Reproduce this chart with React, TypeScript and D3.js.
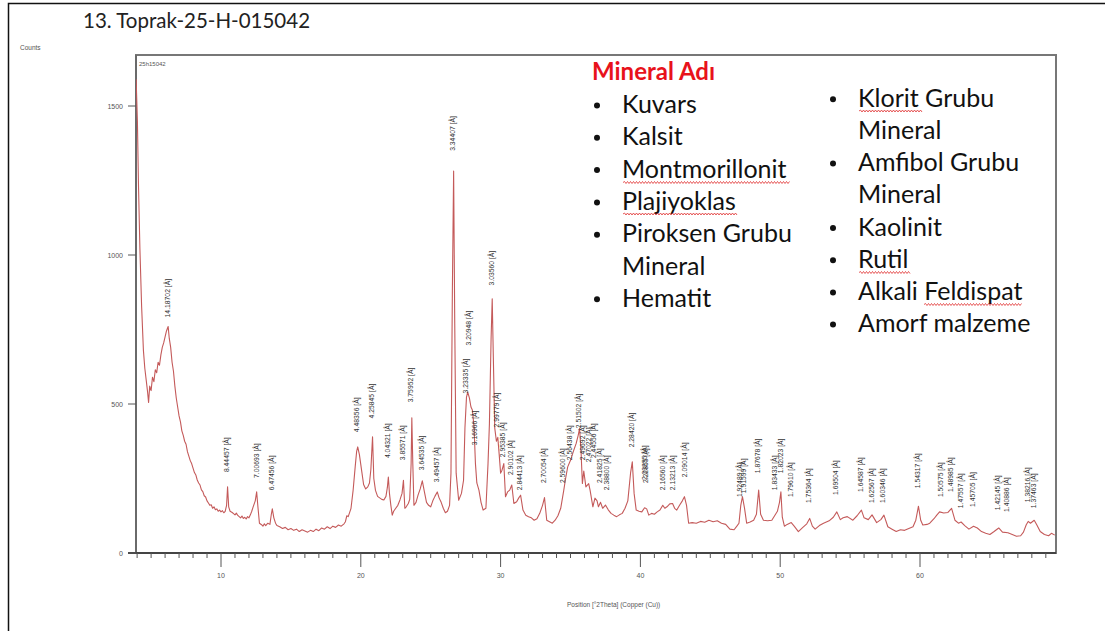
import React from 'react';
import * as d3 from 'd3';

// ---- DATA ----
const title = '13. Toprak-25-H-015042';
const sampleId = '25h15042';
const yTitle = 'Counts';
const xTitle = 'Position [°2Theta] (Copper (Cu))';
const xTicks = [10, 20, 30, 40, 50, 60];
const yTicks = [0, 500, 1000, 1500];

// 2Theta, counts
const profile: [number, number][] = [
  [3.93, 1590], [4.02, 1450], [4.1, 1230], [4.2, 1020], [4.32, 830], [4.45, 680], [4.55, 620], [4.65, 580],
  [4.75, 540], [4.82, 505], [4.9, 560], [5.0, 545], [5.1, 590], [5.2, 575], [5.3, 615], [5.4, 605],
  [5.5, 640], [5.6, 630], [5.7, 665], [5.8, 690], [5.9, 705], [6.0, 725], [6.1, 745], [6.22, 760],
  [6.3, 720], [6.4, 690], [6.5, 640], [6.6, 610], [6.7, 560], [6.8, 520], [6.9, 490], [7.0, 460],
  [7.1, 440], [7.2, 410], [7.3, 395], [7.4, 375], [7.5, 365], [7.6, 340], [7.7, 325], [7.8, 310],
  [7.9, 300], [8.0, 285], [8.1, 270], [8.2, 262], [8.3, 245], [8.4, 235], [8.5, 228], [8.6, 212],
  [8.7, 206], [8.8, 192], [8.9, 188], [9.0, 175], [9.1, 168], [9.2, 160], [9.3, 162], [9.4, 150],
  [9.5, 155], [9.6, 145], [9.7, 148], [9.8, 140], [9.9, 144], [10.0, 138], [10.1, 142], [10.2, 135],
  [10.3, 140], [10.4, 160], [10.47, 222], [10.55, 155], [10.65, 140], [10.8, 136], [10.9, 132], [11.0, 128],
  [11.1, 134], [11.2, 126], [11.3, 122], [11.4, 118], [11.5, 124], [11.6, 116], [11.7, 120], [11.8, 114],
  [11.9, 122], [12.0, 118], [12.1, 128], [12.2, 140], [12.3, 155], [12.45, 175], [12.55, 205], [12.65, 150],
  [12.75, 100], [12.9, 95], [13.0, 90], [13.1, 98], [13.2, 92], [13.35, 100], [13.5, 96], [13.6, 130],
  [13.67, 148], [13.78, 118], [13.9, 100], [14.0, 92], [14.2, 88], [14.4, 82], [14.6, 86], [14.8, 78],
  [15.0, 82], [15.2, 76], [15.4, 80], [15.6, 72], [15.8, 78], [16.0, 74], [16.2, 70], [16.4, 76],
  [16.6, 72], [16.8, 80], [17.0, 75], [17.2, 84], [17.4, 80], [17.6, 88], [17.8, 82], [18.0, 90],
  [18.2, 86], [18.4, 94], [18.6, 90], [18.8, 98], [18.9, 105], [19.0, 125], [19.1, 122], [19.3, 150],
  [19.45, 210], [19.6, 290], [19.7, 340], [19.78, 356], [19.9, 330], [20.05, 280], [20.2, 230], [20.35, 215],
  [20.5, 222], [20.62, 235], [20.72, 280], [20.84, 390], [20.93, 250], [21.05, 210], [21.2, 190], [21.35, 185],
  [21.5, 180], [21.65, 178], [21.8, 190], [21.9, 220], [21.97, 255], [22.05, 200], [22.15, 160], [22.25, 127],
  [22.35, 140], [22.5, 150], [22.65, 160], [22.8, 178], [22.95, 200], [23.05, 244], [23.15, 150], [23.25, 155],
  [23.4, 166], [23.5, 180], [23.6, 300], [23.65, 454], [23.72, 300], [23.8, 160], [23.95, 170], [24.1, 195],
  [24.25, 215], [24.4, 242], [24.55, 205], [24.7, 170], [24.85, 160], [25.0, 155], [25.15, 175], [25.3, 190],
  [25.47, 205], [25.6, 185], [25.75, 170], [25.9, 150], [26.05, 135], [26.2, 140], [26.35, 160], [26.45, 268],
  [26.55, 880], [26.64, 1282], [26.72, 770], [26.82, 268], [27.0, 177], [27.2, 200], [27.35, 244], [27.45, 420],
  [27.56, 523], [27.65, 540], [27.77, 520], [27.88, 490], [27.98, 480], [28.1, 423], [28.2, 300], [28.3, 235],
  [28.45, 211], [28.6, 170], [28.75, 144], [28.95, 150], [29.1, 300], [29.2, 434], [29.32, 720], [29.4, 853],
  [29.48, 657], [29.58, 420], [29.7, 375], [29.8, 388], [29.9, 330], [30.0, 268], [30.1, 278], [30.23, 300],
  [30.35, 189], [30.5, 205], [30.65, 211], [30.8, 228], [30.95, 166], [31.15, 172], [31.3, 185], [31.43, 194],
  [31.6, 144], [31.8, 127], [32.0, 122], [32.2, 118], [32.4, 110], [32.6, 115], [32.8, 133], [33.0, 160],
  [33.14, 186], [33.3, 110], [33.5, 105], [33.7, 100], [33.9, 110], [34.1, 125], [34.3, 150], [34.52, 211],
  [34.65, 250], [34.8, 289], [35.0, 311], [35.2, 340], [35.4, 367], [35.55, 395], [35.65, 418], [35.75, 345],
  [35.85, 233], [35.95, 275], [36.1, 222], [36.3, 233], [36.4, 211], [36.6, 155], [36.75, 184], [36.9, 175],
  [37.0, 155], [37.15, 170], [37.3, 150], [37.5, 161], [37.7, 145], [37.9, 133], [38.1, 127], [38.3, 122],
  [38.5, 128], [38.7, 133], [38.9, 150], [39.1, 175], [39.3, 270], [39.42, 306], [39.55, 200], [39.7, 144],
  [39.9, 140], [40.1, 138], [40.3, 152], [40.45, 148], [40.6, 127], [40.8, 133], [41.0, 130], [41.2, 138],
  [41.4, 144], [41.6, 160], [41.75, 150], [41.9, 155], [42.1, 165], [42.3, 166], [42.45, 150], [42.6, 144],
  [42.8, 160], [43.0, 175], [43.15, 189], [43.3, 160], [43.45, 100], [43.7, 102], [44.0, 100], [44.3, 106],
  [44.6, 103], [44.9, 110], [45.2, 105], [45.5, 108], [45.8, 100], [46.1, 96], [46.4, 80], [46.7, 78],
  [46.9, 90], [47.05, 100], [47.18, 160], [47.3, 189], [47.45, 150], [47.6, 100], [47.85, 104], [48.1, 110],
  [48.3, 130], [48.46, 211], [48.6, 130], [48.8, 110], [49.1, 108], [49.4, 110], [49.6, 125], [49.8, 140],
  [49.95, 170], [50.05, 205], [50.15, 120], [50.3, 90], [50.5, 96], [50.79, 102], [51.0, 90], [51.3, 72],
  [51.6, 85], [51.9, 98], [52.11, 116], [52.3, 90], [52.5, 80], [52.8, 92], [53.1, 100], [53.5, 108],
  [53.8, 120], [54.05, 138], [54.3, 112], [54.5, 118], [54.8, 122], [55.2, 110], [55.5, 125], [55.81, 144],
  [56.0, 118], [56.3, 112], [56.57, 128], [56.9, 102], [57.2, 112], [57.42, 127], [57.7, 88], [58.0, 80],
  [58.3, 72], [58.6, 78], [58.9, 76], [59.2, 82], [59.5, 88], [59.7, 110], [59.89, 157], [60.05, 110],
  [60.2, 94], [60.5, 96], [60.7, 100], [61.0, 115], [61.2, 127], [61.4, 138], [61.7, 134], [62.0, 136],
  [62.26, 150], [62.5, 110], [62.75, 100], [62.94, 104], [63.2, 92], [63.5, 80], [63.83, 90], [64.1, 84],
  [64.4, 72], [64.7, 66], [65.0, 62], [65.3, 72], [65.63, 84], [65.9, 70], [66.29, 68], [66.6, 62],
  [66.9, 56], [67.2, 58], [67.4, 70], [67.6, 95], [67.74, 106], [67.9, 100], [68.17, 110], [68.35, 95],
  [68.6, 72], [68.9, 62], [69.2, 58], [69.4, 66], [69.64, 60],
];

// peak labels: 2Theta, d-spacing text, label anchor (counts)
const peakTheta = [
  6.22, 10.47, 12.62, 13.67, 19.78, 20.84, 21.97, 23.05, 23.65, 24.40, 25.47, 26.64,
  27.56, 27.77, 28.17, 29.40, 29.80, 30.23, 30.80, 31.43, 33.14, 34.52, 34.99, 35.67,
  35.94, 36.34, 36.72, 37.15, 37.64, 39.42, 40.37, 40.45, 41.67, 42.36, 43.25, 47.18,
  47.42, 48.46, 49.66, 50.07, 50.79, 52.11, 54.05, 55.81, 56.57, 57.42, 59.89, 61.54,
  62.26, 62.94, 63.83, 65.63, 66.29, 67.74, 68.17,
];
const peakD = [
  '14.18702', '8.44457', '7.00693', '6.47456', '4.48356', '4.25845', '4.04321', '3.85571', '3.75952', '3.64535', '3.49457', '3.34407',
  '3.23335', '3.20948', '3.16966', '3.03560', '2.99779', '2.95385', '2.90102', '2.84413', '2.70054', '2.59600', '2.56438', '2.51502',
  '2.49692', '2.47022', '2.44556', '2.41825', '2.38800', '2.28420', '2.23255', '2.22855', '2.16560', '2.13213', '2.09014', '1.92489',
  '1.91599', '1.87678', '1.83433', '1.82023', '1.79610', '1.75364', '1.69504', '1.64587', '1.62567', '1.60346', '1.54317', '1.50575',
  '1.48985', '1.47557', '1.45705', '1.42145', '1.40886', '1.38216', '1.37463',
];
const peakCount = [
  757, 238, 218, 177, 372, 418, 285, 278, 472, 244, 204, 1316,
  502, 663, 328, 864, 388, 288, 228, 177, 201, 201, 278, 385,
  278, 271, 285, 201, 177, 321, 211, 201, 177, 177, 221, 154,
  167, 234, 177, 234, 154, 134, 161, 171, 134, 134, 184, 154,
  171, 117, 121, 110, 104, 137, 117,
];

const legendTitle = 'Mineral Adı';
const legendLeft = ['Kuvars', 'Kalsit', 'Montmorillonit', 'Plajiyoklas', 'Piroksen Grubu|Mineral', 'Hematit'];
const legendRight = ['Klorit Grubu|Mineral', 'Amfibol Grubu|Mineral', 'Kaolinit', 'Rutil', 'Alkali Feldispat', 'Amorf malzeme'];

// ---- LAYOUT ----
const W = 1105, H = 631;
const PL = 136, PR = 1056, PT = 55, PB = 553;
const FONT_SMALL = '"Liberation Sans", Arial, sans-serif';
const FONT_MAIN = 'Lato, "Open Sans", sans-serif';

function expandLines(items: string[]) {
  const out: { text: string; bullet: boolean }[] = [];
  items.forEach((it) => {
    it.split('|').forEach((t, i) => out.push({ text: t, bullet: i === 0 }));
  });
  return out;
}

function wavy(x0: number, x1: number, y: number) {
  let d = `M${x0},${y}`;
  let up = true;
  for (let x = x0 + 1.5; x <= x1; x += 1.5) {
    d += ` L${x.toFixed(1)},${(y + (up ? -1 : 1)).toFixed(1)}`;
    up = !up;
  }
  return d;
}

export default function App() {
  const x = d3.scaleLinear().domain([10, 60]).range([221, 920]);
  const y = d3.scaleLinear().domain([0, 1500]).range([PB, 106]);
  const line = d3.line<[number, number]>().x((d) => x(d[0])).y((d) => y(d[1]));
  const minor = d3.range(4, 70, 1).filter((v) => x(v) >= PL && x(v) <= PR);

  const leftLines = expandLines(legendLeft);
  const rightLines = expandLines(legendRight);

  const underlines: [number, number, number][] = [
    [623, 790, 182.5],
    [623, 737, 214],
    [859, 922, 111],
    [859, 910, 272.5],
    [924, 1022, 304.5],
  ];

  return (
    <svg width={W} height={H} style={{ position: 'absolute', left: 0, top: 0, background: '#fff' }}>
      <defs>
        <clipPath id="plot">
          <rect x={PL} y={PT} width={PR - PL} height={PB - PT} />
        </clipPath>
      </defs>
      <rect x={0} y={0} width={W} height={H} fill="#fff" />
      <rect x={8.5} y={3.5} width={1200} height={700} fill="none" stroke="#111" strokeWidth={1.5} />
      <text x={83} y={28} fontFamily={FONT_MAIN} fontSize={20.5} fill="#222">{title}</text>

      {/* plot frame */}
      <rect x={PL} y={PT} width={PR - PL} height={PB - PT} fill="none" stroke="#777" strokeWidth={2} />
      <line x1={PL} x2={PL} y1={PT} y2={PB} stroke="#666" strokeWidth={1.5} />
      <line x1={128} x2={PR} y1={PB} y2={PB} stroke="#444" strokeWidth={2} />

      <text x={20} y={50} fontFamily={FONT_SMALL} fontSize={6.5} fill="#555">{yTitle}</text>
      <text x={139} y={66} fontFamily={FONT_SMALL} fontSize={6} fill="#555">{sampleId}</text>

      {yTicks.map((t) => (
        <g key={t}>
          <line x1={128} x2={PL} y1={y(t)} y2={y(t)} stroke="#555" strokeWidth={1} />
          <text x={123} y={y(t) + 2.5} textAnchor="end" fontFamily={FONT_SMALL} fontSize={7} fill="#555">{t}</text>
        </g>
      ))}
      {minor.map((v) => (
        <line key={v} x1={x(v)} x2={x(v)} y1={PB} y2={v % 10 === 0 ? PB + 14 : PB + 5} stroke="#555" strokeWidth={1} />
      ))}
      {xTicks.map((t) => (
        <text key={t} x={x(t)} y={578} textAnchor="middle" fontFamily={FONT_SMALL} fontSize={7} fill="#555">{t}</text>
      ))}
      <text x={567} y={607} fontFamily={FONT_SMALL} fontSize={6.5} fill="#555">{xTitle}</text>

      <g clipPath="url(#plot)">
        <path d={line(profile) || ''} fill="none" stroke="#c45a5a" strokeWidth={1.1} strokeLinejoin="round" />
      </g>

      {peakTheta.map((t, i) => {
        const px = x(t) - 1;
        const py = y(peakCount[i]) - 10;
        return (
          <text key={i} transform={`translate(${px},${py}) rotate(-90)`} dominantBaseline="central"
            fontFamily={FONT_SMALL} fontSize={6.8} fill="#333">{`${peakD[i]} [Å]`}</text>
        );
      })}

      {/* legend */}
      <text x={592} y={80} fontFamily={FONT_MAIN} fontWeight={700} fontSize={24} fill="#e8121b">{legendTitle}</text>
      {leftLines.map((l, i) => (
        <g key={'l' + i}>
          {l.bullet && <circle cx={597} cy={113 + i * 32.3 - 7.5} r={3} fill="#111" />}
          <text x={622} y={113 + i * 32.3} fontFamily={FONT_MAIN} fontSize={25} fill="#111">{l.text}</text>
        </g>
      ))}
      {rightLines.map((l, i) => (
        <g key={'r' + i}>
          {l.bullet && <circle cx={833} cy={106.7 + i * 32.2 - 7.5} r={3} fill="#111" />}
          <text x={858} y={106.7 + i * 32.2} fontFamily={FONT_MAIN} fontSize={25} fill="#111">{l.text}</text>
        </g>
      ))}
      {underlines.map(([a, b, yy], i) => (
        <path key={'u' + i} d={wavy(a, b, yy)} fill="none" stroke="#e03030" strokeWidth={0.8} />
      ))}
    </svg>
  );
}
